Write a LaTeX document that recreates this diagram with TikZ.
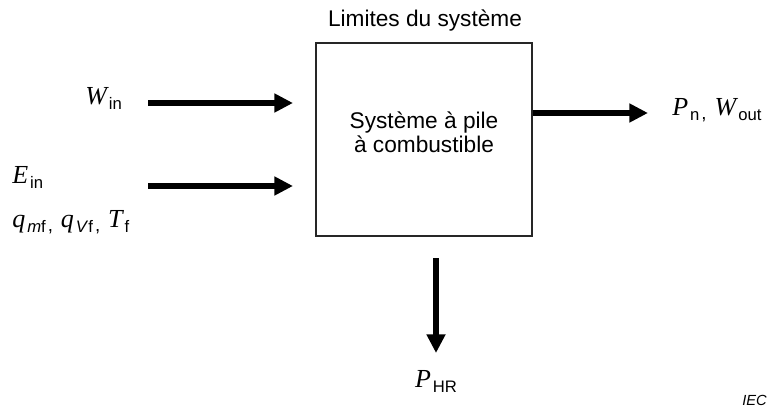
\documentclass[tikz,border=0pt]{standalone}
\usepackage{fontspec}
\setmainfont{Liberation Sans}
\newfontfamily\varfont{Liberation Serif}
\usetikzlibrary{%
        arrows.meta,
        positioning
    }
\newcommand{\sym}[2]{%
    {\varfont\itshape\fontsize{19.5}{19.5}\selectfont #1}\kern1.5pt%
    \raisebox{-4pt}{\fontsize{12.5}{12.5}\selectfont #2}}
\newcommand{\sep}{\kern1.5pt\raisebox{-3pt}{\fontsize{14}{14}\selectfont,}\hspace{6pt}}
\tikzset{%
    flow/.style={%
        line width=4.5pt,
        -{Triangle[length=14pt, width=13.5pt]}
    },
    label/.style={%
        inner sep=0, anchor=base west, font=\fontsize{17}{18}\selectfont
    }
}

\begin{document}
\begin{tikzpicture}[x=0.75pt, y=-0.75pt]

    \useasboundingbox (0, 0) rectangle (771, 410);

    % System boundary
    \node[draw=black!85, line width=0.8pt, minimum width=162pt,
          minimum height=144.75pt, inner sep=0] (sys) at (424, 139.5) {};
    \node[label, anchor=base] (title) at (425, 27) {Limites du système};
    \node[label, anchor=base, align=center] (sysname) at (424, 152)
        {Système à pile\\ à combustible};

    % Inputs
    \node[label] (win) at (85, 104) {\sym{W}{in}};
    \node[label] (ein) at (12, 183) {\sym{E}{in}};
    \node[label] (fuel) at (12, 227) {%
        \sym{q}{\textit{m}f}\sep\sym{q}{\textit{V}f}\sep\sym{T}{f}};

    \coordinate (win1) at (148, 103);
    \coordinate (win2) at (293, 103);
    \coordinate (ein1) at (148, 186);
    \coordinate (ein2) at (293, 186);

    \draw[flow] (win1) -- (win2);
    \draw[flow] (ein1) -- (ein2);

    % Outputs
    \node[label] (pout) at (672, 115) {\sym{P}{n}\sep\sym{W}{out}};
    \node[label, anchor=base] (phr) at (436, 387) {\sym{P}{HR}};

    \coordinate (pn) at (648, 113);
    \coordinate (hr1) at (436, 258);
    \coordinate (hr2) at (436, 353);

    \draw[flow] (sys.east |- pn) -- (pn);
    \draw[flow] (hr1) -- (hr2);

    \node[label, anchor=base east, font=\fontsize{11}{13}\selectfont\itshape]
        (iec) at (767, 405) {IEC};

\end{tikzpicture}
\end{document}
